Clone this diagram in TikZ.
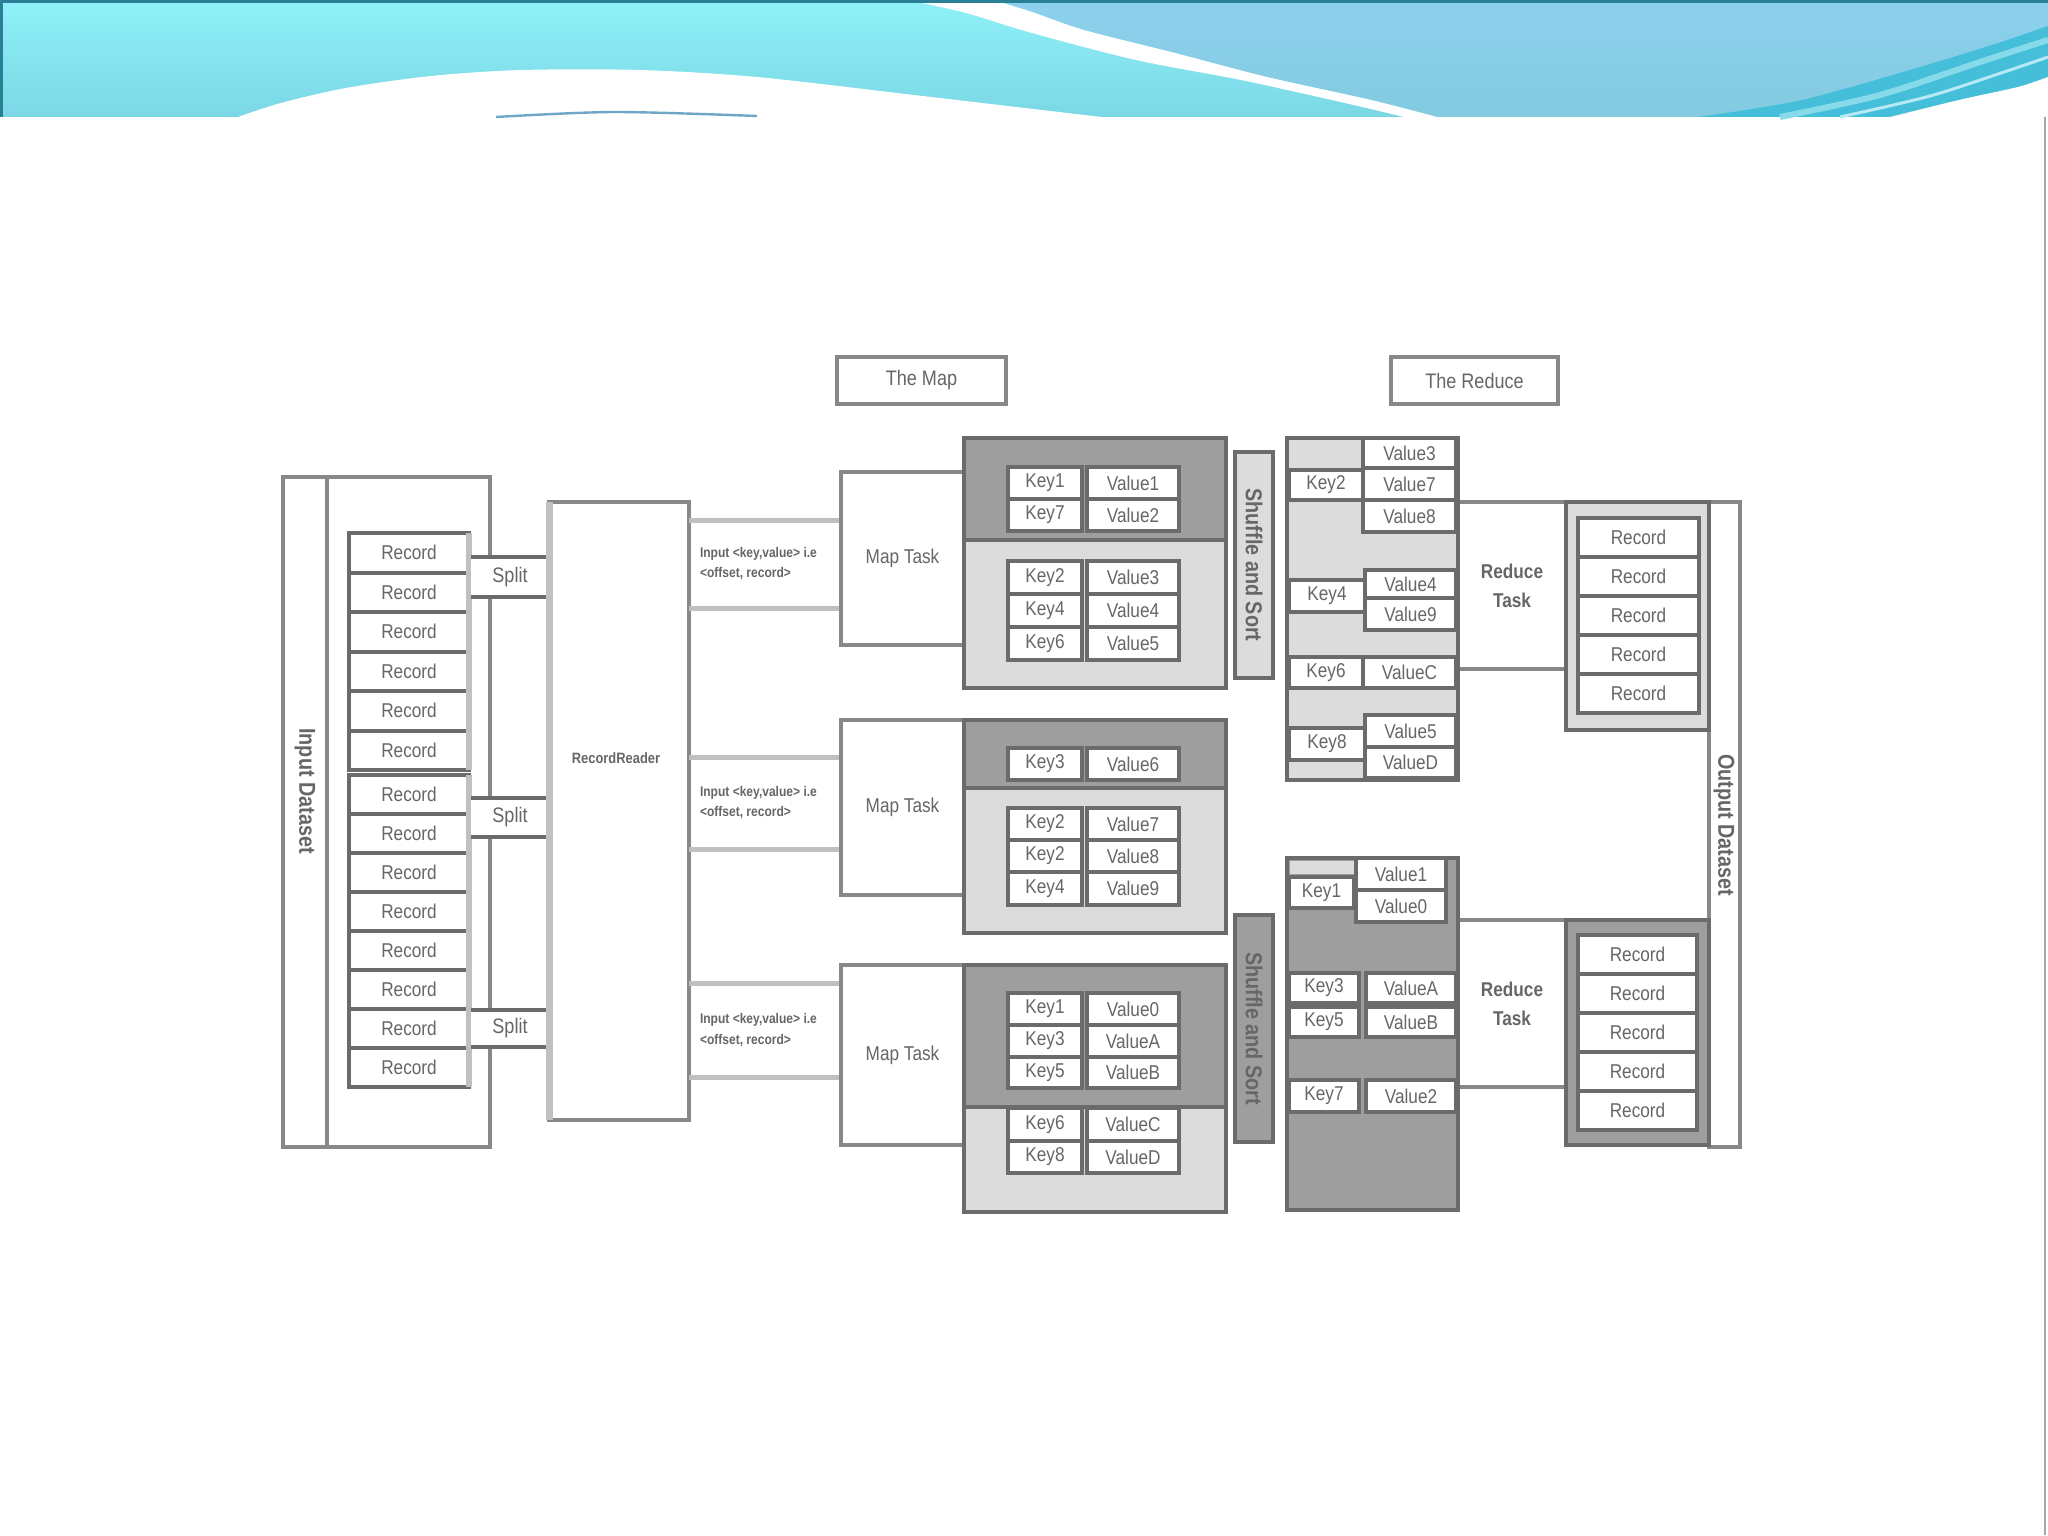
\documentclass[tikz,border=0pt]{standalone}
\usepackage{fontspec}
\setmainfont{Liberation Sans}[FakeStretch=0.86]
\definecolor{txt}{HTML}{666666}
\definecolor{dk}{HTML}{6B6B6B}
\definecolor{md}{HTML}{888888}
\definecolor{lt}{HTML}{C0C0C0}
\definecolor{fd}{HTML}{9E9E9E}
\definecolor{fl}{HTML}{DCDCDC}
\definecolor{bnA}{HTML}{8FF1F8}
\definecolor{bnB}{HTML}{7BD7E5}
\definecolor{bnC}{HTML}{8DD0EE}
\definecolor{bnD}{HTML}{83CBE0}
\definecolor{bnE}{HTML}{45BEDA}
\definecolor{bnF}{HTML}{86DAEA}
\definecolor{bnT}{HTML}{2A7E96}
\definecolor{bnL}{HTML}{6FA6C8}
\tikzset{
  base/.style={inner sep=0pt,outer sep=0pt,text=txt,align=center,font=\fontsize{10}{12}\selectfont},
  idbox/.style={base,draw=md,line width=2pt},
  mapbox/.style={base,draw=md,line width=2pt,fill=white},
  kvcell/.style={base,draw=dk,line width=1.6pt,fill=white},
  recbox/.style={base,draw=dk,line width=2pt,fill=white},
  contbox/.style={base,draw=dk,line width=2pt},
  titlebox/.style={base,draw=md,line width=2.2pt,fill=white,font=\fontsize{10.5}{12}\selectfont},
  vlab/.style={base,rotate=-90,font=\bfseries\fontsize{11.5}{13}\selectfont},
  smalllab/.style={base,align=left,font=\bfseries\fontsize{7}{10}\selectfont},
  rtlab/.style={font=\bfseries\fontsize{10}{14.5}\selectfont},
}
\newcommand\rb[7]{\node[#6,anchor=north west,minimum width={((#4)-(#2))*0.5pt},minimum height={((#5)-(#3))*0.5pt}] (#1) at (#2,#3) {#7};}
\newcommand\kv[5]{\rb{k#1}{1008}{#2}{1082}{#3}{kvcell}{#4}\rb{v#1}{1087}{#2}{1179}{#3}{kvcell}{#5}}
\begin{document}
\begin{tikzpicture}[x=0.5pt,y=-0.5pt]
\useasboundingbox (0,0) rectangle (2048,1535);
\fill[white] (0,0) rectangle (2048,1535);
% ---------- banner ----------
\shade[top color=bnA,bottom color=bnB] (0,0) rectangle (2048,117);
\shade[top color=bnC,bottom color=bnD] plot[smooth] coordinates {(993,0)(1032,12)(1084,30)(1175,53)(1267,77)(1371,100)(1437,117)} -- (2048,117) -- (2048,0) -- cycle;
\fill[white] plot[smooth] coordinates {(908,0)(966,13)(1032,33)(1136,60)(1241,80)(1345,103)(1404,117)} -- plot[smooth] coordinates {(1437,117)(1371,100)(1267,77)(1175,53)(1084,30)(1032,12)(993,0)} -- cycle;
\fill[white] plot[smooth] coordinates {(235,118)(281,103)(346,88)(431,76)(522,70)(640,70)(757,77)(914,95)(1110,118)} -- cycle;
\draw[bnL,line width=1.2pt] plot[smooth] coordinates {(496,117)(614,112)(757,116)};
\fill[bnE] plot[smooth] coordinates {(1698,117)(1802,100)(1920,67)(1998,43)(2048,26)} -- plot[smooth] coordinates {(2048,77)(2018,87)(1959,100)(1887,117)} -- cycle;
\draw[bnF,line width=3pt] plot[smooth] coordinates {(1780,117)(1880,95)(1980,62)(2048,40)};
\draw[bnF!60!white,line width=1.5pt] plot[smooth] coordinates {(1840,117)(1930,96)(2010,70)(2048,57)};
\fill[white] plot[smooth] coordinates {(1887,118)(1959,100)(2018,87)(2048,77)} -- (2048,118) -- cycle;
\draw[bnT,line width=2pt] (0,1) -- (2048,1);
\draw[bnT,line width=1.5pt] (1,0) -- (1,117);
\draw[black!35,line width=1.2pt] (2045,117) -- (2045,1535);
% ---------- input dataset ----------
\rb{ids}{283}{477}{490}{1147}{idbox}{}
\draw[md,line width=2pt] (327,477) -- (327,1147);
\node[vlab] (idsl) at (305,791) {Input Dataset};
\foreach \i in {0,...,5}{\pgfmathsetmacro\ya{533+39.5*\i}\pgfmathsetmacro\yb{\ya+39.5}\rb{ra\i}{349}{\ya}{469}{\yb}{recbox}{Record}}
\foreach \i in {0,...,7}{\pgfmathsetmacro\ya{775+39*\i}\pgfmathsetmacro\yb{\ya+39}\rb{rb\i}{349}{\ya}{469}{\yb}{recbox}{Record}}
\draw[lt,line width=3pt] (469,533) -- (469,770) (469,775) -- (469,1087);
% splits
\rb{sp1}{471}{557}{549}{597}{base,fill=white,font=\fontsize{10.5}{12}\selectfont}{Split}
\rb{sp2}{471}{798}{549}{837}{base,fill=white,font=\fontsize{10.5}{12}\selectfont}{Split}
\rb{sp3}{471}{1010}{549}{1047}{base,fill=white,font=\fontsize{10.5}{12}\selectfont}{Split}
\foreach \s in {sp1,sp2,sp3}{\draw[dk,line width=2pt] (\s.north west) -- (\s.north east) (\s.south west) -- (\s.south east);}
% record reader
\rb{rr}{549}{502}{689}{1120}{mapbox}{}
\draw[lt,line width=3.5pt] (rr.north west) -- (rr.south west);
\node[base,font=\bfseries\fontsize{7.5}{9}\selectfont] (rrl) at (616,758) {RecordReader};
% input labels
\foreach \n/\ya/\yb in {1/520/608,2/757/849,3/983/1077}{
  \rb{in\n}{689}{\ya}{841}{\yb}{base}{}
  \draw[lt,line width=2.5pt] (in\n.north west) -- (in\n.north east) (in\n.south west) -- (in\n.south east);
  \node[smalllab,anchor=west] (int\n) at ([xshift=5.5pt]in\n.west) {Input \textless key,value\textgreater{} i.e\\\textless offset, record\textgreater};
}
% map tasks
\rb{mt1}{841}{472}{964}{645}{mapbox}{Map Task}
\rb{mt2}{841}{720}{964}{895}{mapbox}{Map Task}
\rb{mt3}{841}{965}{964}{1145}{mapbox}{Map Task}
% map containers
\rb{c1a}{964}{438}{1226}{540}{contbox,fill=fd}{}
\rb{c1b}{964}{540}{1226}{688}{contbox,fill=fl}{}
\rb{c2a}{964}{720}{1226}{788}{contbox,fill=fd}{}
\rb{c2b}{964}{788}{1226}{933}{contbox,fill=fl}{}
\rb{c3a}{964}{965}{1226}{1107}{contbox,fill=fd}{}
\rb{c3b}{964}{1107}{1226}{1212}{contbox,fill=fl}{}
\kv{11}{467}{499}{Key1}{Value1}
\kv{12}{499}{531}{Key7}{Value2}
\kv{13}{561}{594}{Key2}{Value3}
\kv{14}{594}{627}{Key4}{Value4}
\kv{15}{627}{660}{Key6}{Value5}
\kv{21}{748}{780}{Key3}{Value6}
\kv{22}{808}{840}{Key2}{Value7}
\kv{23}{840}{872}{Key2}{Value8}
\kv{24}{872}{905}{Key4}{Value9}
\kv{31}{993}{1025}{Key1}{Value0}
\kv{32}{1025}{1057}{Key3}{ValueA}
\kv{33}{1057}{1088}{Key5}{ValueB}
\kv{34}{1108}{1141}{Key6}{ValueC}
\kv{35}{1141}{1173}{Key8}{ValueD}
% shuffle and sort
\rb{ss1}{1235}{452}{1273}{678}{contbox,fill=fl}{}
\node[vlab] (ss1l) at (ss1.center) {Shuffle and Sort};
\rb{ss2}{1235}{915}{1273}{1142}{contbox,fill=fd}{}
\node[vlab] (ss2l) at (ss2.center) {Shuffle and Sort};
% titles
\rb{tmap}{837}{357}{1006}{404}{titlebox}{The Map}
\rb{tred}{1391}{357}{1558}{404}{titlebox}{The Reduce}
% reduce tasks and outputs
\rb{rt1}{1458}{502}{1566}{669}{mapbox,rtlab}{Reduce\\Task}
\rb{rt2}{1458}{920}{1566}{1087}{mapbox,rtlab}{Reduce\\Task}
\rb{od}{1709}{502}{1740}{1147}{mapbox}{}
\node[vlab] (odl) at (1724,825) {Output Dataset};
\rb{of1}{1566}{502}{1709}{730}{contbox,fill=fl}{}
\foreach \i in {0,...,4}{\pgfmathsetmacro\ya{518+39*\i}\pgfmathsetmacro\yb{\ya+39}\rb{oa\i}{1578}{\ya}{1699}{\yb}{recbox}{Record}}
\rb{of2}{1566}{920}{1709}{1145}{contbox,fill=fd}{}
\foreach \i in {0,...,4}{\pgfmathsetmacro\ya{935+39*\i}\pgfmathsetmacro\yb{\ya+39}\rb{ob\i}{1578}{\ya}{1697}{\yb}{recbox}{Record}}
% reduce container 1
\rb{rc1}{1287}{438}{1458}{780}{contbox,fill=fl}{}
\rb{r1v1}{1363}{438}{1456}{468}{kvcell}{Value3}
\rb{r1v2}{1363}{468}{1456}{500}{kvcell}{Value7}
\rb{r1v3}{1363}{500}{1456}{532}{kvcell}{Value8}
\rb{r1k1}{1289}{470}{1363}{500}{kvcell}{Key2}
\rb{r1v4}{1365}{570}{1456}{598}{kvcell}{Value4}
\rb{r1v5}{1365}{598}{1456}{630}{kvcell}{Value9}
\rb{r1k2}{1289}{580}{1365}{612}{kvcell}{Key4}
\rb{r1k3}{1289}{657}{1363}{688}{kvcell}{Key6}
\rb{r1v6}{1363}{657}{1456}{688}{kvcell}{ValueC}
\rb{r1v7}{1365}{715}{1456}{747}{kvcell}{Value5}
\rb{r1v8}{1365}{747}{1456}{778}{kvcell}{ValueD}
\rb{r1k4}{1289}{728}{1365}{760}{kvcell}{Key8}
% reduce container 2
\rb{rc2}{1287}{858}{1458}{1210}{contbox,fill=fd}{}
\fill[fl] (1290,861) rectangle (1354,874);
\rb{r2v1}{1356}{858}{1446}{890}{kvcell}{Value1}
\rb{r2v2}{1356}{890}{1446}{922}{kvcell}{Value0}
\rb{r2k1}{1289}{877}{1354}{908}{kvcell}{Key1}
\rb{r2k2}{1289}{973}{1359}{1003}{kvcell}{Key3}
\rb{r2v3}{1366}{973}{1456}{1003}{kvcell}{ValueA}
\rb{r2k3}{1289}{1007}{1359}{1037}{kvcell}{Key5}
\rb{r2v4}{1366}{1007}{1456}{1037}{kvcell}{ValueB}
\rb{r2k4}{1289}{1080}{1359}{1112}{kvcell}{Key7}
\rb{r2v5}{1366}{1080}{1456}{1112}{kvcell}{Value2}
\end{tikzpicture}
\end{document}
